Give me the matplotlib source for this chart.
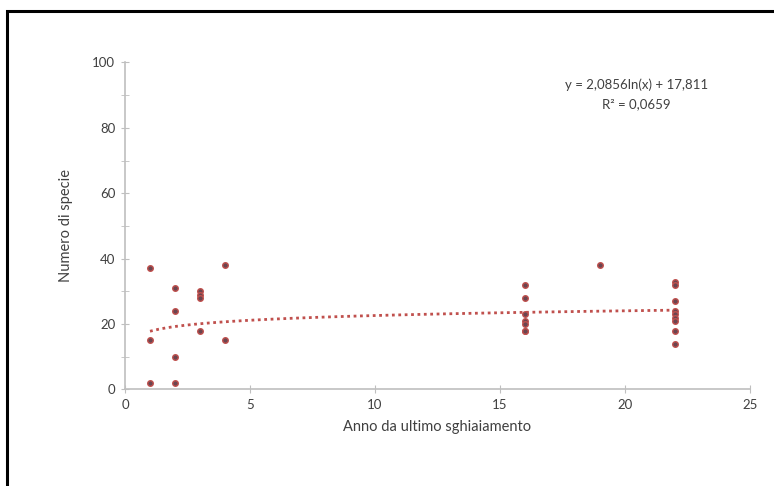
import numpy as np
import matplotlib.pyplot as plt
from matplotlib.patches import Rectangle

# dati
anni = [1, 1, 1,
        2, 2, 2, 2,
        3, 3, 3, 3,
        4, 4,
        16, 16, 16, 16, 16, 16, 16,
        19,
        22, 22, 22, 22, 22, 22, 22, 22, 22]
specie = [37, 15, 2,
          31, 24, 10, 2,
          30, 29, 28, 18,
          38, 15,
          32, 28, 23, 21, 20, 18, 18,
          38,
          33, 32, 27, 24, 23, 22, 21, 18, 14]

# coefficienti della linea di tendenza (logaritmica)
coef_a = 2.0856
coef_b = 17.811
testo_eq = "y = 2,0856ln(x) + 17,811"
testo_r2 = "R² = 0,0659"

plt.rcParams['font.family'] = ['Lato', 'DejaVu Sans']

fig = plt.figure(figsize=(7.74, 4.86), dpi=100)
fig.patches.append(Rectangle((7 / 774, -0.1), 1.2, 1 - 11 / 486 + 0.1,
                             transform=fig.transFigure, fill=False,
                             edgecolor='black', linewidth=2.2))

ax = fig.add_axes([0.1615, 0.1986, 0.8075, 0.6728])

xt = np.linspace(1, 22, 60)
ax.plot(xt, coef_a * np.log(xt) + coef_b, color='#c0504d',
        linestyle=(0, (1, 1.3)), linewidth=2.0, zorder=2)
ax.plot(anni, specie, linestyle='none', marker='o', markersize=4,
        markerfacecolor='#6b4550', markeredgecolor='#c0504d',
        markeredgewidth=1.0, zorder=3)

ax.set_xlim(0, 25)
ax.set_ylim(0, 100)
ax.set_xticks(range(0, 26, 5))
ax.set_yticks(range(0, 101, 20))
ax.set_yticks(range(10, 100, 20), minor=True)

for s in ['top', 'right']:
    ax.spines[s].set_visible(False)
for s in ['left', 'bottom']:
    ax.spines[s].set_color('#bfbfbf')
    ax.spines[s].set_linewidth(1.2)
ax.tick_params(which='both', direction='inout', length=6, color='#bfbfbf',
               labelsize=9.5, labelcolor='#404040', pad=4)

ax.set_xlabel('Anno da ultimo sghiaiamento', fontsize=10.5, color='#404040',
              labelpad=6)
ax.set_ylabel('Numero di specie', fontsize=10.5, color='#404040', labelpad=14)

ax.text(0.818, 0.931, testo_eq, transform=ax.transAxes, ha='center',
        va='center', fontsize=9.5, color='#404040')
ax.text(0.818, 0.873, testo_r2, transform=ax.transAxes, ha='center',
        va='center', fontsize=9.5, color='#404040')

fig.savefig('out.png', dpi=100)
